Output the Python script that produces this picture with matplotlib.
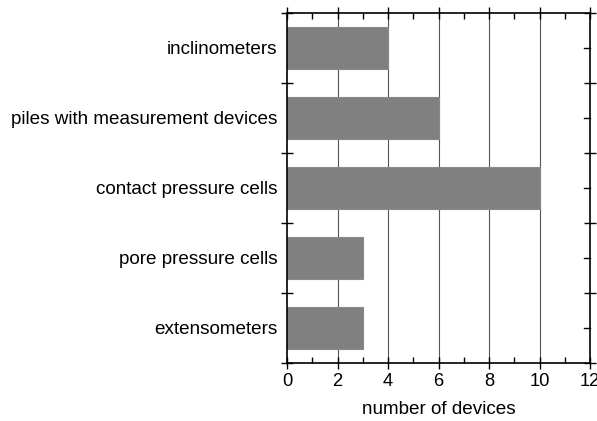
import numpy as np
import matplotlib.pyplot as plt
from matplotlib.ticker import MultipleLocator

plt.rcParams['font.family'] = ['Liberation Sans', 'DejaVu Sans']

# data
categories = ['inclinometers', 'piles with measurement devices', 'contact pressure cells',
              'pore pressure cells', 'extensometers']
counts = [4, 6, 10, 3, 3]

fig = plt.figure(figsize=(5.97, 4.21), dpi=100)
ax = fig.add_axes([287 / 597, 1 - 363 / 421, 303 / 597, 350 / 421])

ypos = np.arange(len(categories))[::-1]
ax.barh(ypos, counts, height=0.6, color='#808080', edgecolor='#8a8a8a', linewidth=0.8, zorder=3)

# vertical grid
for gx in range(2, 12, 2):
    ax.axvline(gx, color='#555555', linewidth=0.8, zorder=1)

ax.set_xlim(0, 12)
ax.set_ylim(-0.5, len(categories) - 0.5)

ax.xaxis.set_major_locator(MultipleLocator(2))
ax.xaxis.set_minor_locator(MultipleLocator(1))
ax.tick_params(axis='x', which='major', direction='inout', length=8, width=1, labelsize=13.2,
               top=True, pad=3)
ax.tick_params(axis='x', which='minor', direction='in', length=4, width=1, top=True)

# y ticks: boundaries on both sides, centers on the right only
ax.set_yticks(ypos)
ax.set_yticklabels(categories)
ax.set_yticks(np.arange(-0.5, len(categories), 1), minor=True)
ax.tick_params(axis='y', which='major', length=0, labelsize=13.6, pad=7)
ax.tick_params(axis='y', which='minor', direction='inout', length=8, width=1, right=True)

for yc in ypos:
    ax.plot([11.75, 12], [yc, yc], color='black', linewidth=1, clip_on=False, zorder=4)

for s in ax.spines.values():
    s.set_linewidth(1.2)
    s.set_zorder(5)

ax.set_xlabel('number of devices', fontsize=13.6, labelpad=8)

fig.savefig('out.png', dpi=100)
